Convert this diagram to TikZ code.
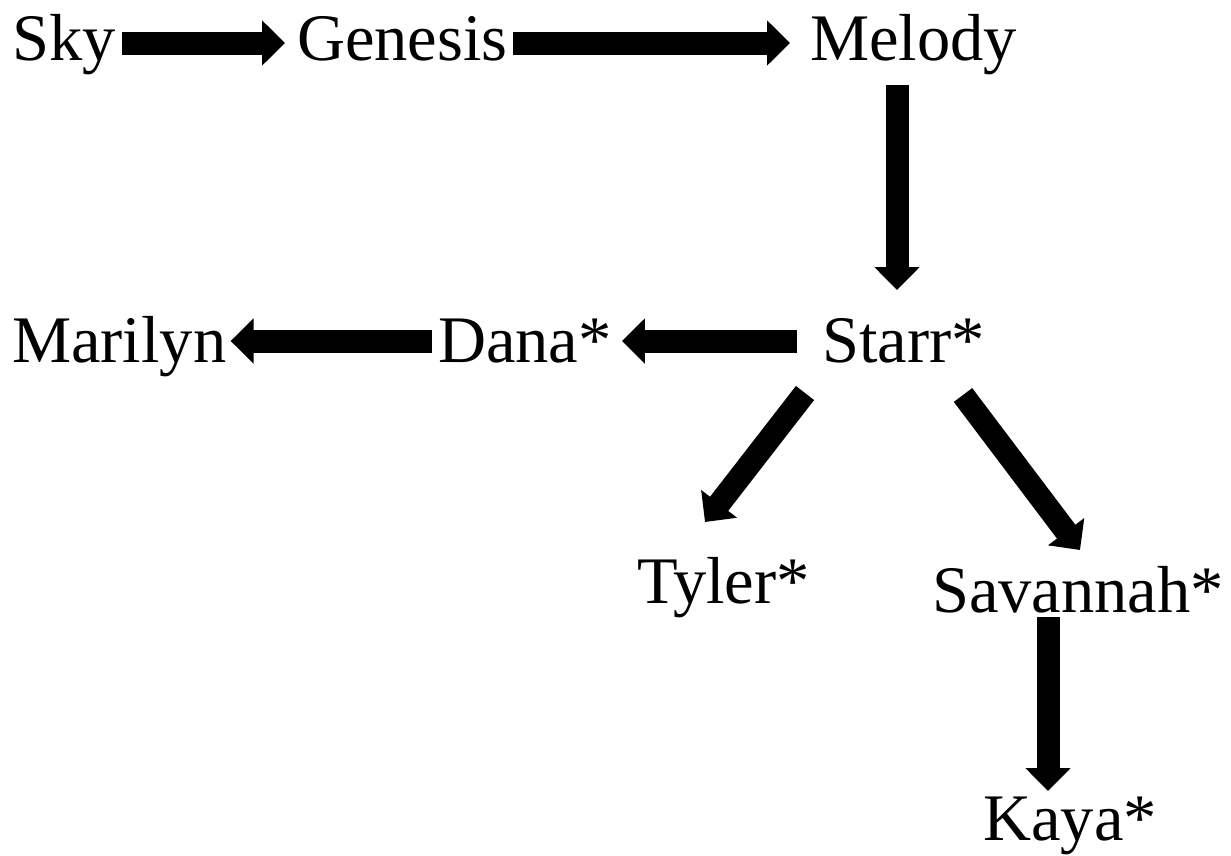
\documentclass[tikz,border=0pt]{standalone}
\usepackage{fontspec}
\setmainfont{Liberation Serif}
\usetikzlibrary{arrows.meta}
\begin{document}
\begin{tikzpicture}[x=1pt,y=-1pt,
  lbl/.style={anchor=base west, inner sep=0pt, text height=46pt, text depth=14pt,
    font=\fontsize{66.5}{70}\selectfont},
  blk/.style={line width=23pt, -{Triangle[width=44pt,length=23pt]}}]
\useasboundingbox (0,0) rectangle (1231,855);
\node[lbl] (sky) at (12,60) {Sky};
\node[lbl] (genesis) at (297,60) {Genesis};
\node[lbl] (melody) at (810,60) {Melody};
\node[lbl] (starr) at (822,362) {Starr*};
\node[lbl] (dana) at (438,362) {Dana*};
\node[lbl] (marilyn) at (12,362) {Marilyn};
\node[lbl] (tyler) at (637,603) {Tyler*};
\node[lbl] (savannah) at (932,612) {Savannah*};
\node[lbl] (kaya) at (983,840) {Kaya*};
\draw[blk, shorten <=6pt, shorten >=12pt] ([yshift=1pt]sky.east) -- ([yshift=1pt]genesis.west);
\draw[blk, shorten <=5pt, shorten >=20pt] ([yshift=1pt]genesis.east) -- ([yshift=1pt]melody.west);
\draw[blk, shorten <=25pt, shorten >=10pt] ([yshift=5pt]starr.west) -- ([yshift=5pt]dana.east);
\draw[blk, shorten <=6pt, shorten >=4pt] ([yshift=5pt]dana.west) -- ([yshift=5pt]marilyn.east);
\draw[blk] ([shift={(87,25)}]melody.base west) -- ([shift={(75,-72)}]starr.base west);
\draw[blk] ([shift={(-17,31)}]starr.base west) -- ([shift={(68,-81)}]tyler.base west);
\draw[blk] ([shift={(141,33)}]starr.base west) -- ([shift={(148,-62)}]savannah.base west);
\draw[blk] ([shift={(116,5)}]savannah.base west) -- ([shift={(65,-49)}]kaya.base west);
\end{tikzpicture}
\end{document}
